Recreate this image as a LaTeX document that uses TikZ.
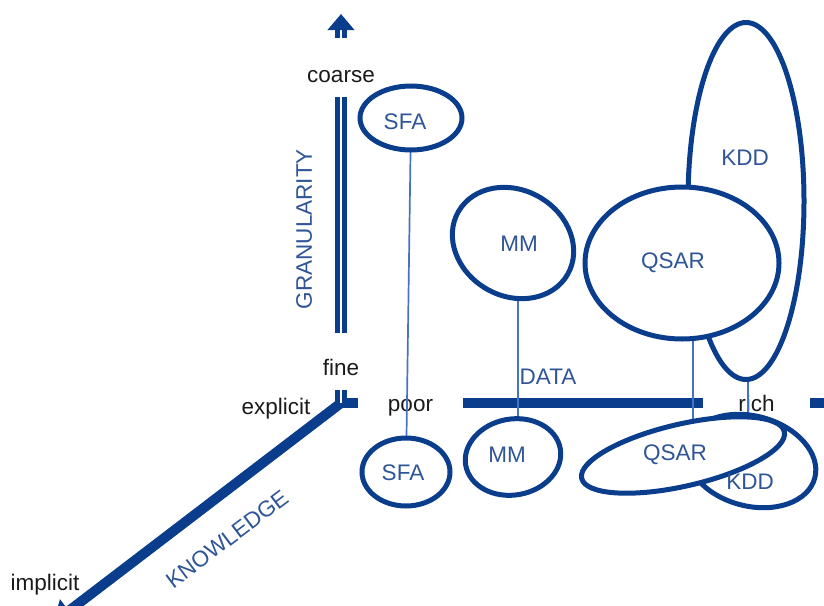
\documentclass[tikz,border=0pt]{standalone}
\usepackage{fontspec}
\setmainfont{Liberation Sans}
\usetikzlibrary{shapes.geometric,arrows.meta}
\definecolor{dd}{RGB}{10,61,140}
\definecolor{tt}{RGB}{47,85,151}
\definecolor{ll}{RGB}{68,114,196}
\definecolor{kk}{RGB}{26,26,26}

\begin{document}
\begin{tikzpicture}[x=1pt, y=-1pt, font=\fontsize{22.5}{27}\selectfont,
  blob/.style={ellipse, draw=dd, fill=white, line width=5pt, inner sep=0pt},
  tag/.style={text=tt, inner sep=0pt},
  lbl/.style={text=kk, inner sep=0pt},
  link/.style={draw=ll, line width=1.7pt},
  axis/.style={draw=dd, line width=10pt, -{Triangle[width=28pt,length=20pt]}}]
\useasboundingbox (0,0) rectangle (824,605);
\clip (0,0) rectangle (824,605);

% the three axes, broken by their end labels
\coordinate (o) at (341,403);
\coordinate (gtop) at (341,14);
\coordinate (dend) at (850,403);
\coordinate (kend) at (53,623);
\node[lbl, minimum height=59pt, text height=29pt, text depth=0pt] (coarse) at (341,67.5) {coarse};
\node[lbl, minimum height=57pt, text height=27pt, text depth=0pt] (fine) at (341,361.5) {fine};
\node[lbl, minimum width=105pt, text height=16pt, text depth=0pt] (poor) at (410.5,403) {poor};
\node[lbl, minimum width=107pt, text height=16pt, text depth=0pt] (rich) at (756.5,403) {rich};
\node[lbl] (explicit) at (276,409) {explicit};
\node[lbl] (implicit) at (45,585) {implicit};

\draw[axis] (o) -- (kend);
\draw[axis] (o) -- (poor) -- (rich) -- (dend);
\draw[axis, line width=5pt, double=white, double distance=1.5pt,
  -{Triangle[width=26pt,length=16pt]}] (o) -- (fine) -- (coarse) -- (gtop);

\node[tag] (data) at (548,377) {DATA};
\node[tag, rotate=90] (gran) at (304,229) {GRANULARITY};
\node[tag, rotate=37] (know) at (227,539) {KNOWLEDGE};

% centres of the bubbles, joined first so the bubbles cover the links
\coordinate (sfa1c) at (411,118);
\coordinate (sfa2c) at (406,472);
\coordinate (mm1c) at (513,243);
\coordinate (mm2c) at (513,457);
\coordinate (qsar1c) at (682,263);
\coordinate (qsar2c) at (683,455);
\coordinate (kdd1c) at (746,201);
\coordinate (kdd2c) at (751,461);

\draw[link] (sfa1c) -- (sfa2c);
\draw[link] ([xshift=5pt]mm1c) -- ([xshift=5pt]mm2c);
\draw[link] ([xshift=11pt]qsar1c) -- ([xshift=10pt]qsar2c);
\draw[link] ([xshift=2pt]kdd1c) -- ([xshift=-3pt]kdd2c);

\node[blob, minimum width=102pt, minimum height=64pt] (sfa1) at (sfa1c) {};
\node[blob, minimum width=88pt, minimum height=68pt] (sfa2) at (sfa2c) {};
\node[blob, minimum width=126pt, minimum height=106pt, rotate=-30] (mm1) at (mm1c) {};
\node[blob, minimum width=96pt, minimum height=76pt, rotate=10] (mm2) at (mm2c) {};
\node[blob, minimum width=116pt, minimum height=357pt] (kdd1) at (kdd1c) {};
\node[blob, minimum width=194pt, minimum height=152pt] (qsar1) at (qsar1c) {};
\node[blob, minimum width=132pt, minimum height=90pt, rotate=-15] (kdd2) at (kdd2c) {};
\node[blob, minimum width=208pt, minimum height=62pt, rotate=13] (qsar2) at (qsar2c) {};

\node[tag] (sfa1t) at (405,122) {SFA};
\node[tag] (sfa2t) at (403,473) {SFA};
\node[tag] (mm1t) at (519,244) {MM};
\node[tag] (mm2t) at (507,455) {MM};
\node[tag] (qsar1t) at (673,263) {QSAR};
\node[tag] (qsar2t) at (675,455) {QSAR};
\node[tag] (kdd1t) at (745,158) {KDD};
\node[tag] (kdd2t) at (750,482) {KDD};
\end{tikzpicture}
\end{document}
